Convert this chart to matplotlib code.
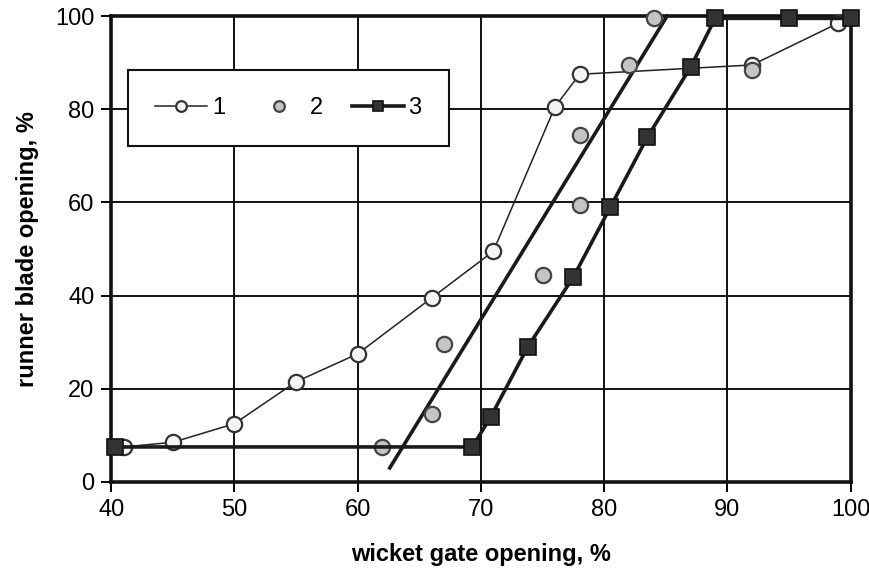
import matplotlib
matplotlib.use("Agg")
import matplotlib.pyplot as plt

plt.rcParams['font.family'] = ['Liberation Sans', 'DejaVu Sans']

# series 1 - open circles with thin line
x1 = [41, 45, 50, 55, 60, 66, 71, 76, 78, 92, 99]
y1 = [7.5, 8.5, 12.5, 21.5, 27.5, 39.5, 49.5, 80.5, 87.5, 89.5, 98.5]

# series 2 - grey circles, no line
x2 = [62, 66, 67, 75, 78, 78, 82, 84, 92]
y2 = [7.5, 14.5, 29.5, 44.5, 59.5, 74.5, 89.5, 99.5, 88.5]

# fitted line for series 2
xf = [62.6, 85.1]
yf = [3, 100]

# series 3 - black squares with thick line
x3 = [40.3, 69.3, 70.8, 73.8, 77.5, 80.5, 83.5, 87, 89, 95, 100]
y3 = [7.5, 7.5, 14, 29, 44, 59, 74, 89, 99.5, 99.5, 99.5]

fig = plt.figure(figsize=(8.69, 5.73), dpi=100)
ax = fig.add_axes([0.128, 0.159, 0.851, 0.813])

ax.plot(xf, yf, color='#1a1a1a', lw=2.6, zorder=3, clip_on=False)
l1, = ax.plot(x1, y1, '-o', color='#222222', lw=1.1, ms=11, mfc='#f4f4f4',
              mec='#333333', mew=1.6, zorder=4, clip_on=False, label='1')
l2, = ax.plot(x2, y2, 'o', ms=11, mfc='#c4c4c4', mec='#444444', mew=1.6,
              zorder=4, clip_on=False, label='2')
l3, = ax.plot(x3, y3, '-s', color='#1a1a1a', lw=2.6, ms=11, mfc='#333333',
              mec='#111111', mew=1.2, zorder=5, clip_on=False, label='3')

ax.set_xlim(40, 100)
ax.set_ylim(0, 100)
ax.set_xticks(range(40, 101, 10))
ax.set_yticks(range(0, 101, 20))
ax.grid(True, color='#111111', lw=1.4)
ax.set_axisbelow(True)
for s in ax.spines.values():
    s.set_linewidth(2.6)
    s.set_color('#111111')
ax.tick_params(labelsize=17, length=7, width=1.4, direction='out', pad=5)

ax.set_xlabel('wicket gate opening, %', fontsize=17, fontweight='bold', labelpad=16)
ax.set_ylabel('runner blade opening, %', fontsize=17, fontweight='bold', labelpad=12)

leg = ax.legend(handles=[l1, l2, l3], ncol=3, loc='upper left',
                bbox_to_anchor=(0.023, 0.885), borderaxespad=0, fontsize=17,
                frameon=True, fancybox=False, edgecolor='#111111', framealpha=1,
                handlelength=2.2, columnspacing=1.2, handletextpad=0.2,
                borderpad=1.15, markerscale=0.7)
leg.get_frame().set_linewidth(1.5)
leg.set_zorder(10)

fig.savefig('out.png', dpi=100)
